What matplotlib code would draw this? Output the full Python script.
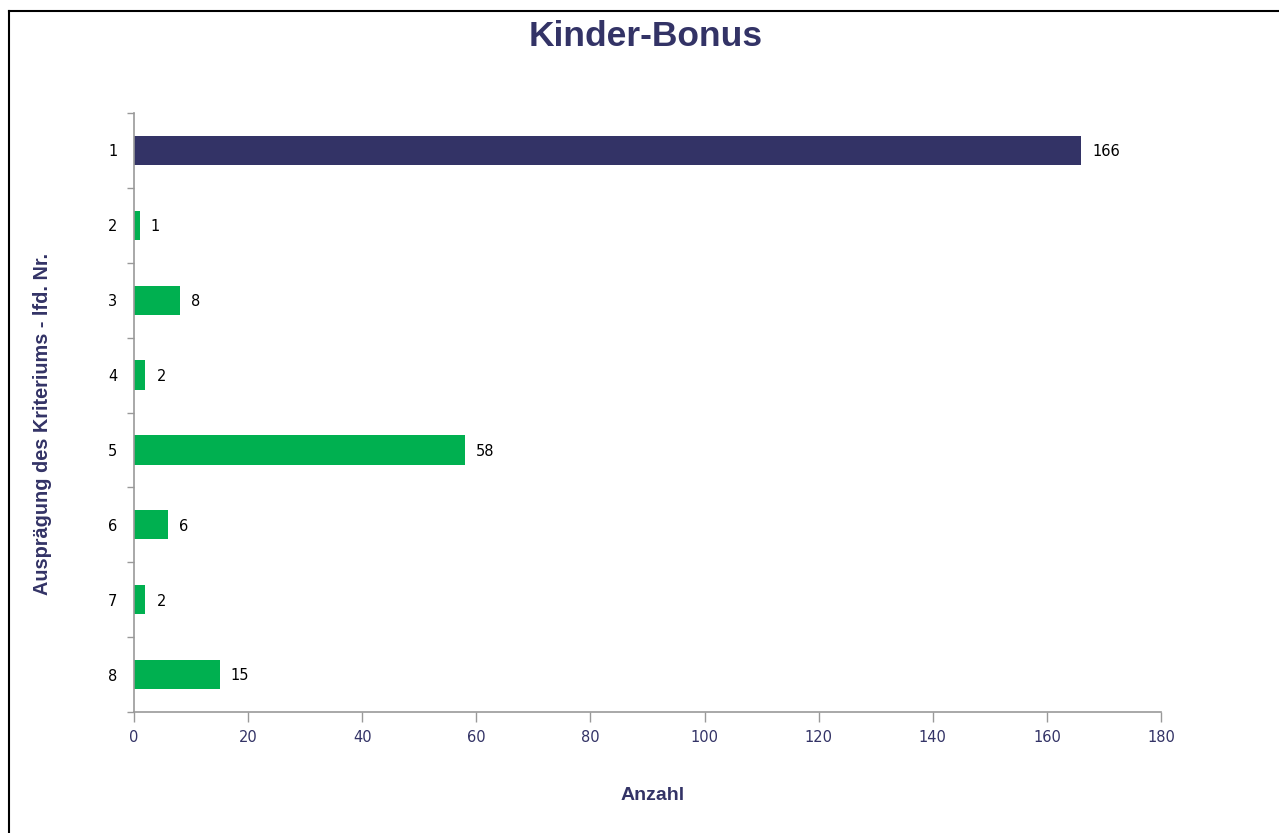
import matplotlib

matplotlib.use("Agg")
import matplotlib.pyplot as plt
from matplotlib.lines import Line2D

categories = ["1", "2", "3", "4", "5", "6", "7", "8"]
counts = [166, 1, 8, 2, 58, 6, 2, 15]
bar_colors = ["#333366"] + ["#00B050"] * 7
x_ticks = [0, 20, 40, 60, 80, 100, 120, 140, 160, 180]

NAVY = "#333366"
GRAY = "#999999"
W, H = 1279, 833

fig = plt.figure(figsize=(W / 100, H / 100), dpi=100)
ax = fig.add_axes([134 / W, 1 - 712 / H, (1161 - 134) / W, (712 - 113) / H])

positions = list(range(len(categories)))
ax.barh(positions, counts, height=0.39, color=bar_colors, zorder=2)
for pos, val in zip(positions, counts):
    ax.annotate(str(val), (val, pos), xytext=(8, -1), textcoords="offset points",
                va="center", ha="left", fontsize=10.5, color="black",
                family="DejaVu Sans")

ax.set_ylim(len(categories) - 0.5, -0.5)
ax.set_xlim(0, 180)
ax.set_xticks(x_ticks)
ax.set_xticklabels([str(t) for t in x_ticks], fontsize=10.5, color=NAVY)
ax.set_yticks(positions)
ax.set_yticklabels(categories, fontsize=10.5, color="black")
ax.set_yticks([p - 0.5 for p in positions] + [len(categories) - 0.5], minor=True)

ax.tick_params(axis="y", which="major", length=0, pad=12)
ax.tick_params(axis="y", which="minor", length=5, width=1, color=GRAY, direction="out")
ax.tick_params(axis="x", length=7, width=1, color=GRAY, direction="out", pad=6)

for side in ["top", "right"]:
    ax.spines[side].set_visible(False)
for side in ["left", "bottom"]:
    ax.spines[side].set_color(GRAY)
    ax.spines[side].set_linewidth(1.2)

fig.text(653 / W, 1 - 795 / H, "Anzahl", ha="center", va="center",
         fontsize=14, fontweight="bold", color=NAVY, family="Liberation Sans")
fig.text(43 / W, 1 - 424 / H, "Ausprägung des Kriteriums - lfd. Nr.", rotation=90,
         ha="center", va="center", fontsize=14.3, fontweight="bold", color=NAVY,
         family="Liberation Sans")

fig.text(646 / W, 1 - 37 / H, "Kinder-Bonus", ha="center", va="center",
         fontsize=25.5, fontweight="bold", color=NAVY, family="Liberation Sans")

# outer frame (left and top visible)
fig.add_artist(Line2D([9 / W, 9 / W], [0, 1 - 11 / H], color="black", lw=1.5))
fig.add_artist(Line2D([9 / W, 1], [1 - 11 / H, 1 - 11 / H], color="black", lw=1.5))

fig.savefig("out.png", dpi=100)
plt.close(fig)
